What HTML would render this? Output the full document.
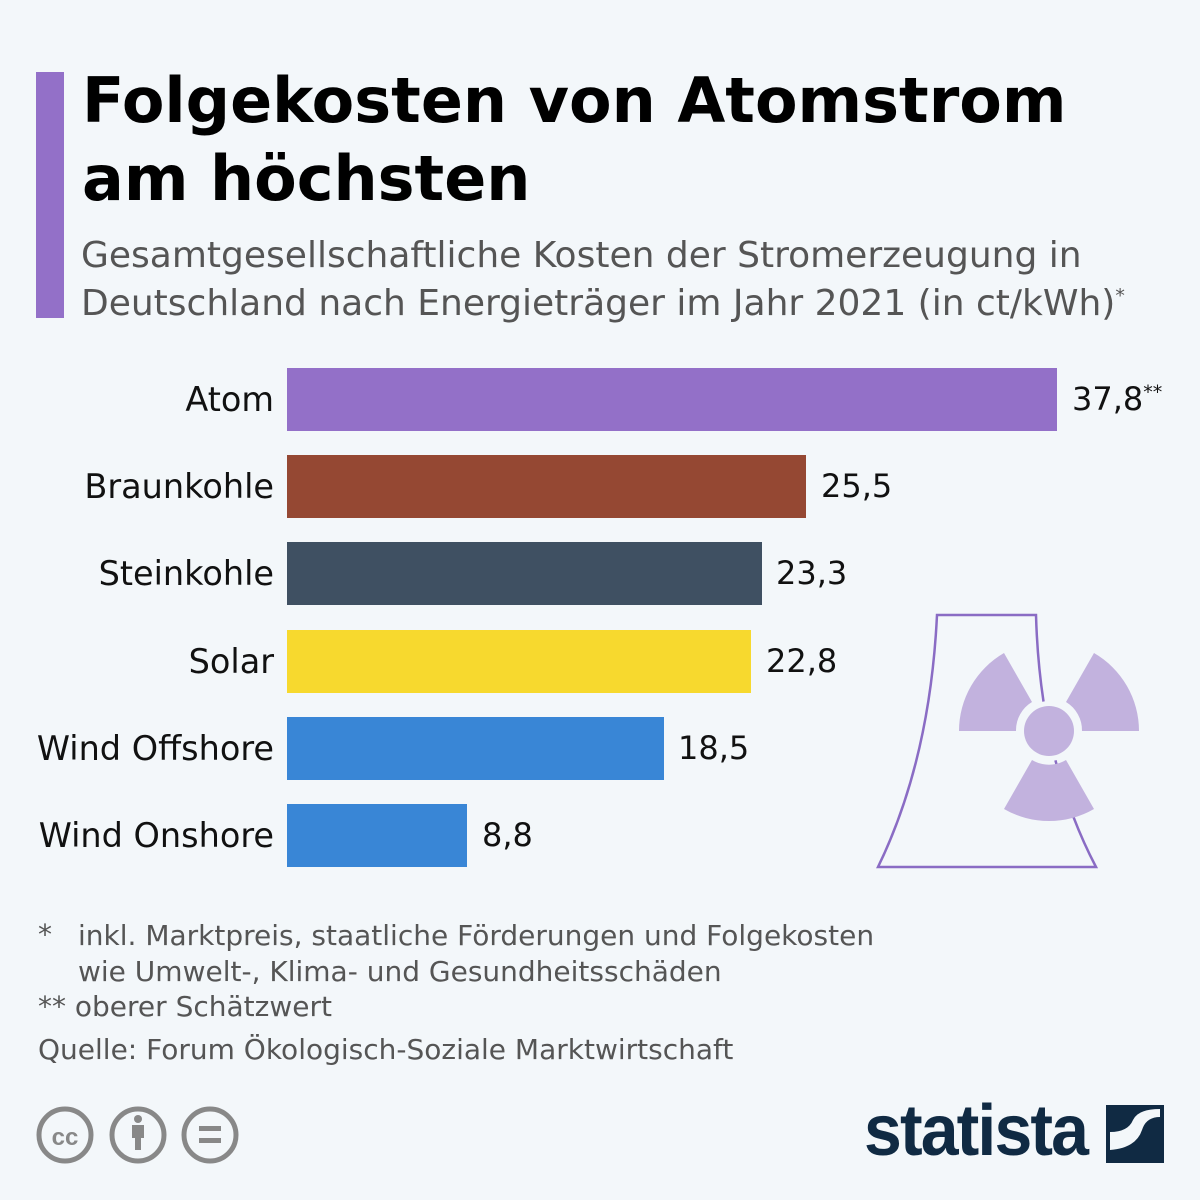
<!DOCTYPE html>
<html><head><meta charset="utf-8"><style>
body{margin:0;width:1200px;height:1200px;background:#f3f7fa;font-family:"DejaVu Sans","Liberation Sans",sans-serif;position:relative;overflow:hidden}
.a{position:absolute;white-space:nowrap}
.lab{position:absolute;right:926px;font-size:33.5px;color:#111;line-height:63px}
.bar{position:absolute;left:287px;height:63px}
.val{position:absolute;font-size:32px;color:#111;line-height:63px}
.fn{position:absolute;font-size:28px;color:#555;white-space:nowrap}
sup{line-height:0}
</style></head><body>
<div class="a" style="left:36px;top:72px;width:28px;height:246px;background:#9370c8"></div>
<div class="a" style="left:82px;top:62px;font-size:62px;font-weight:bold;line-height:78px;color:#000">Folgekosten von Atomstrom<br>am höchsten</div>
<div class="a" style="left:81px;top:232px;font-size:36px;line-height:48px;color:#555">Gesamtgesellschaftliche Kosten der Stromerzeugung in<br>Deutschland nach Energieträger im Jahr 2021 (in ct/kWh)<sup style="font-size:19px">*</sup></div>

<div class="lab" style="top:368px">Atom</div>
<div class="lab" style="top:455px">Braunkohle</div>
<div class="lab" style="top:542px">Steinkohle</div>
<div class="lab" style="top:630px">Solar</div>
<div class="lab" style="top:717px">Wind Offshore</div>
<div class="lab" style="top:804px">Wind Onshore</div>

<div class="bar" style="top:368px;width:770px;background:#9370c8"></div>
<div class="bar" style="top:455px;width:519px;background:#954833"></div>
<div class="bar" style="top:542px;width:475px;background:#3f5062"></div>
<div class="bar" style="top:630px;width:464px;background:#f7d92e"></div>
<div class="bar" style="top:717px;width:377px;background:#3986d6"></div>
<div class="bar" style="top:804px;width:180px;background:#3986d6"></div>

<div class="val" style="top:368px;left:1072px">37,8<sup style="font-size:19px">**</sup></div>
<div class="val" style="top:455px;left:821px">25,5</div>
<div class="val" style="top:542px;left:776px">23,3</div>
<div class="val" style="top:630px;left:766px">22,8</div>
<div class="val" style="top:717px;left:678px">18,5</div>
<div class="val" style="top:804px;left:482px">8,8</div>

<svg class="a" style="left:0;top:0" width="1200" height="1200">
<path d="M937,615 L1036,615 Q1040,760 1096,867 L878,867 Q930,760 937,615 Z" fill="none" stroke="#8a6cc4" stroke-width="2.5"/>
<g fill="#c2b2de">
<path d="M959,731 A90,90 0 0 1 1004,653 L1032,702 A33,33 0 0 0 1016,731 Z"/>
<path d="M1094,653 A90,90 0 0 1 1139,731 L1082,731 A33,33 0 0 0 1066,702 Z"/>
<path d="M1094,809 A90,90 0 0 1 1004,809 L1032,760 A33,33 0 0 0 1066,760 Z"/>
</g>
<circle cx="1049" cy="731" r="30" fill="#f3f7fa"/>
<circle cx="1049" cy="731" r="25" fill="#c2b2de"/>
<g fill="none" stroke="#888" stroke-width="5">
<circle cx="65" cy="1135" r="26"/><circle cx="138" cy="1135" r="26"/><circle cx="210" cy="1135" r="26"/>
</g>
<text x="65" y="1145" font-size="24" font-weight="bold" fill="#888" text-anchor="middle" font-family="Liberation Sans">cc</text>
<circle cx="138" cy="1119" r="4" fill="#888"/><rect x="132" y="1125" width="12" height="13" fill="#888"/><rect x="135" y="1136" width="6" height="14" fill="#888"/>
<rect x="199" y="1126" width="22" height="5" fill="#888"/><rect x="199" y="1138" width="22" height="5" fill="#888"/>
<rect x="1106" y="1105" width="58" height="58" fill="#102a43"/>
<path d="M1110,1132 Q1128,1132 1133,1120 Q1138,1109 1160,1109 L1160,1117 Q1146,1117 1142,1130 Q1136,1148 1110,1150 Z" fill="#f3f7fa"/>
</svg>
<div class="a" style="left:864px;top:1090px;font-size:72px;font-weight:bold;color:#102a43;letter-spacing:-2px;transform:scaleX(0.945);transform-origin:left top;font-family:'Liberation Sans',sans-serif">statista</div>

<div class="fn" style="left:38px;top:918px">*</div>
<div class="fn" style="left:78px;top:918px;line-height:36px">inkl. Marktpreis, staatliche Förderungen und Folgekosten<br>wie Umwelt-, Klima- und Gesundheitsschäden</div>
<div class="fn" style="left:38px;top:990px">** oberer Schätzwert</div>
<div class="fn" style="left:38px;top:1033px">Quelle: Forum Ökologisch-Soziale Marktwirtschaft</div>
</body></html>
